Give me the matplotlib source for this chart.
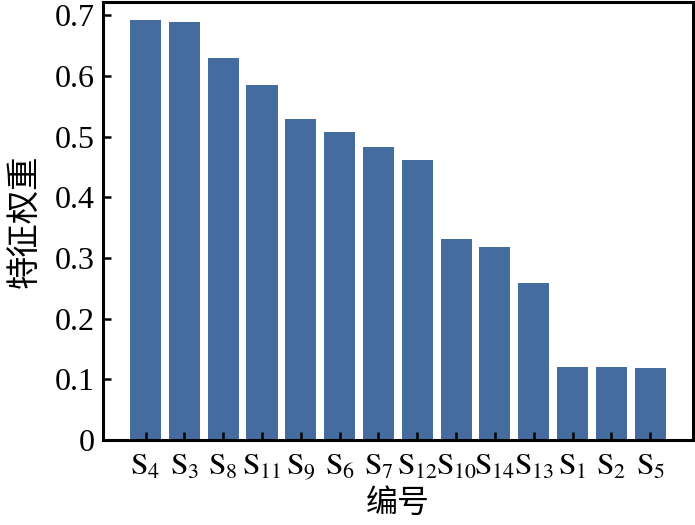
import matplotlib
matplotlib.use("Agg")
import matplotlib.pyplot as plt
import numpy as np

# feature weights, sorted as in the figure
labels = ["4", "3", "8", "11", "9", "6", "7", "12", "10", "14", "13", "1", "2", "5"]
weights = [0.692, 0.690, 0.629, 0.585, 0.529, 0.507, 0.483, 0.461,
           0.331, 0.318, 0.259, 0.120, 0.120, 0.118]
yticks = [0, 0.1, 0.2, 0.3, 0.4, 0.5, 0.6, 0.7]

plt.rcParams["font.family"] = ["Liberation Serif", "Noto Sans CJK SC"]
plt.rcParams["mathtext.fontset"] = "stix"

fig = plt.figure(figsize=(6.95, 5.25), dpi=100)
ax = fig.add_axes([0.148, 0.162, 0.849, 0.834])

x = np.arange(len(weights))
ax.bar(x, weights, width=0.8, color="#456c9e")

ax.set_xlim(-1.1, len(weights) - 1 + 1.1)
ax.set_ylim(0, 0.722)
ax.set_xticks(x)
ax.set_xticklabels([rf"$\mathrm{{S}}_{{{s}}}$" for s in labels], fontsize=22.5)
ax.set_yticks(yticks)
ax.set_yticklabels(["0"] + [f"{v:.1f}" for v in yticks[1:]], fontsize=23)

ax.tick_params(direction="in", length=6, width=1.8, pad=6)
ax.tick_params(axis="x", pad=9)
for sp in ax.spines.values():
    sp.set_linewidth(2.2)

ax.set_xlabel("编号", fontsize=23, labelpad=5)
ax.set_ylabel("特征权重", fontsize=24, labelpad=10)

fig.savefig("out.png", dpi=100)
